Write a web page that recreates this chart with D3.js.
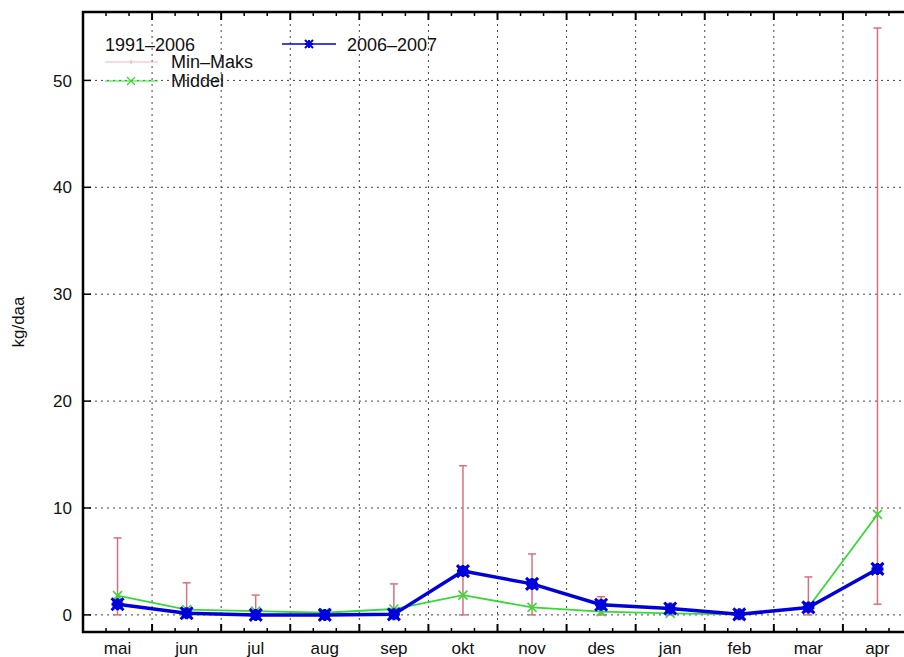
<!DOCTYPE html>
<meta charset="utf-8">
<script src="https://d3js.org/d3.v7.min.js"></script>
<style>
body { margin: 0; background: #fff; }
text { font-family: "Liberation Sans", Arial, sans-serif; }
</style>
<body>
<div id="chart"></div>
<script>
// data
var months = ["mai", "jun", "jul", "aug", "sep", "okt", "nov", "des", "jan", "feb", "mar", "apr"];
var current = [1.0, 0.15, 0.0, 0.0, 0.05, 4.1, 2.9, 0.95, 0.6, 0.05, 0.7, 4.3];   // 2006-2007
var middel  = [1.8, 0.5, 0.35, 0.2, 0.55, 1.85, 0.7, 0.3, 0.15, 0.05, 0.7, 9.4];
var maks    = [7.2, 3.0, 1.85, 0.35, 2.9, 13.95, 5.7, 1.7, 0.4, 0.1, 3.55, 54.9];
var minv    = [0, 0, 0, 0, 0, 0, 0, 0, 0, 0, 0, 1.0];
var yTicks  = [0, 10, 20, 30, 40, 50];

var W = 904, H = 657;
var pL = 83, pT = 12, pR = 912, pB = 632;

var svg = d3.select("#chart").append("svg")
  .attr("width", W).attr("height", H);

var x = d3.scaleLinear().domain([0.5, 12.5]).range([pL, pR]);
var y = d3.scaleLinear().domain([-1.6, 56.4]).range([pB, pT]);

var gridColor = "#444";

// horizontal grid
svg.selectAll(".hgrid").data(yTicks).enter().append("line")
  .attr("x1", pL).attr("x2", pR)
  .attr("y1", function(d) { return y(d); }).attr("y2", function(d) { return y(d); })
  .attr("stroke", gridColor).attr("stroke-width", 1).attr("stroke-dasharray", "2,4");

// vertical grid at month boundaries
var bounds = d3.range(1.5, 12.5, 1);
svg.selectAll(".vgrid").data(bounds).enter().append("line")
  .attr("x1", function(d) { return x(d); }).attr("x2", function(d) { return x(d); })
  .attr("y1", pT).attr("y2", pB)
  .attr("stroke", gridColor).attr("stroke-width", 1).attr("stroke-dasharray", "2,4");

// x ticks: major at boundaries, minor at thirds
var minor = [];
d3.range(0.5, 12.5, 1).forEach(function(b) { minor.push(b + 1/3, b + 2/3); });
[pB, pT].forEach(function(yy) {
  var dir = yy === pB ? -1 : 1;
  svg.selectAll(null).data(bounds).enter().append("line")
    .attr("x1", function(d) { return x(d); }).attr("x2", function(d) { return x(d); })
    .attr("y1", yy).attr("y2", yy + dir * 8)
    .attr("stroke", "#000").attr("stroke-width", 2);
  svg.selectAll(null).data(minor).enter().append("line")
    .attr("x1", function(d) { return x(d); }).attr("x2", function(d) { return x(d); })
    .attr("y1", yy).attr("y2", yy + dir * 4)
    .attr("stroke", "#000").attr("stroke-width", 1.5);
});

// y ticks
svg.selectAll(".ytick").data(yTicks).enter().append("line")
  .attr("x1", pL).attr("x2", pL + 8)
  .attr("y1", function(d) { return y(d); }).attr("y2", function(d) { return y(d); })
  .attr("stroke", "#000").attr("stroke-width", 1.5);

svg.selectAll(".ylab").data(yTicks).enter().append("text")
  .attr("x", 72).attr("y", function(d) { return y(d); })
  .attr("dy", "0.36em").attr("text-anchor", "end")
  .attr("font-size", 17).attr("fill", "#111")
  .text(function(d) { return d; });

svg.selectAll(".xlab").data(months).enter().append("text")
  .attr("x", function(d, i) { return x(i + 1); }).attr("y", 654)
  .attr("text-anchor", "middle")
  .attr("font-size", 17).attr("fill", "#111")
  .text(function(d) { return d; });

svg.append("text")
  .attr("transform", "translate(24," + ((pT + pB) / 2) + ") rotate(-90)")
  .attr("text-anchor", "middle")
  .attr("font-size", 17).attr("fill", "#111")
  .text("kg/daa");

// frame
svg.append("rect")
  .attr("x", pL).attr("y", pT)
  .attr("width", pR - pL).attr("height", pB - pT)
  .attr("fill", "none").attr("stroke", "#000").attr("stroke-width", 2.5);

// error bars
var errColor = "#d9707c";
var eb = svg.append("g").attr("stroke", errColor).attr("stroke-width", 1.5);
months.forEach(function(m, i) {
  var cx = x(i + 1);
  eb.append("line").attr("x1", cx).attr("x2", cx).attr("y1", y(minv[i])).attr("y2", y(maks[i]));
  eb.append("line").attr("x1", cx - 4).attr("x2", cx + 4).attr("y1", y(maks[i])).attr("y2", y(maks[i]));
  eb.append("line").attr("x1", cx - 4).attr("x2", cx + 4).attr("y1", y(minv[i])).attr("y2", y(minv[i]));
});

// middel line
var green = "#36d936";
var line = d3.line().x(function(d, i) { return x(i + 1); }).y(function(d) { return y(d); });
svg.append("path").datum(middel).attr("d", line)
  .attr("fill", "none").attr("stroke", green).attr("stroke-width", 1.8);

function xMark(g, cx, cy, s, color, w) {
  g.append("path")
    .attr("d", "M" + (cx - s) + "," + (cy - s) + "L" + (cx + s) + "," + (cy + s) +
               "M" + (cx - s) + "," + (cy + s) + "L" + (cx + s) + "," + (cy - s))
    .attr("stroke", color).attr("stroke-width", w).attr("fill", "none");
}
function starMark(g, cx, cy, s, color, w) {
  xMark(g, cx, cy, s, color, w);
  g.append("path")
    .attr("d", "M" + (cx - s) + "," + cy + "L" + (cx + s) + "," + cy +
               "M" + cx + "," + (cy - s) + "L" + cx + "," + (cy + s))
    .attr("stroke", color).attr("stroke-width", w).attr("fill", "none");
}

var gm = svg.append("g");
middel.forEach(function(v, i) { xMark(gm, x(i + 1), y(v), 4.5, green, 1.6); });

// 2006-2007 line
var blue = "#0000dd";
svg.append("path").datum(current).attr("d", line)
  .attr("fill", "none").attr("stroke", blue).attr("stroke-width", 3.5)
  .attr("stroke-linejoin", "round");
var gc = svg.append("g");
current.forEach(function(v, i) {
  gc.append("rect").attr("x", x(i + 1) - 5).attr("y", y(v) - 5)
    .attr("width", 10).attr("height", 10).attr("fill", blue);
  starMark(gc, x(i + 1), y(v), 6, blue, 3);
});

// legend
var lg = svg.append("g").attr("font-size", 18).attr("fill", "#111");
lg.append("text").attr("x", 105).attr("y", 51).text("1991\u20132006");
lg.append("line").attr("x1", 105).attr("x2", 158).attr("y1", 62).attr("y2", 62)
  .attr("stroke", "#eeb8bf").attr("stroke-width", 1.2);
lg.append("line").attr("x1", 131).attr("x2", 131).attr("y1", 60).attr("y2", 64)
  .attr("stroke", "#eeb8bf").attr("stroke-width", 1.2);
lg.append("text").attr("x", 171).attr("y", 68).text("Min\u2013Maks");
lg.append("line").attr("x1", 105).attr("x2", 158).attr("y1", 81).attr("y2", 81)
  .attr("stroke", green).attr("stroke-width", 1.2);
xMark(lg, 131, 81, 4, green, 1.2);
lg.append("text").attr("x", 171).attr("y", 87).text("Middel");
lg.append("line").attr("x1", 282).attr("x2", 336).attr("y1", 44).attr("y2", 44)
  .attr("stroke", blue).attr("stroke-width", 1.5);
starMark(lg, 309, 44, 4, blue, 2);
lg.append("text").attr("x", 347).attr("y", 51).text("2006\u20132007");
</script>
</body>
